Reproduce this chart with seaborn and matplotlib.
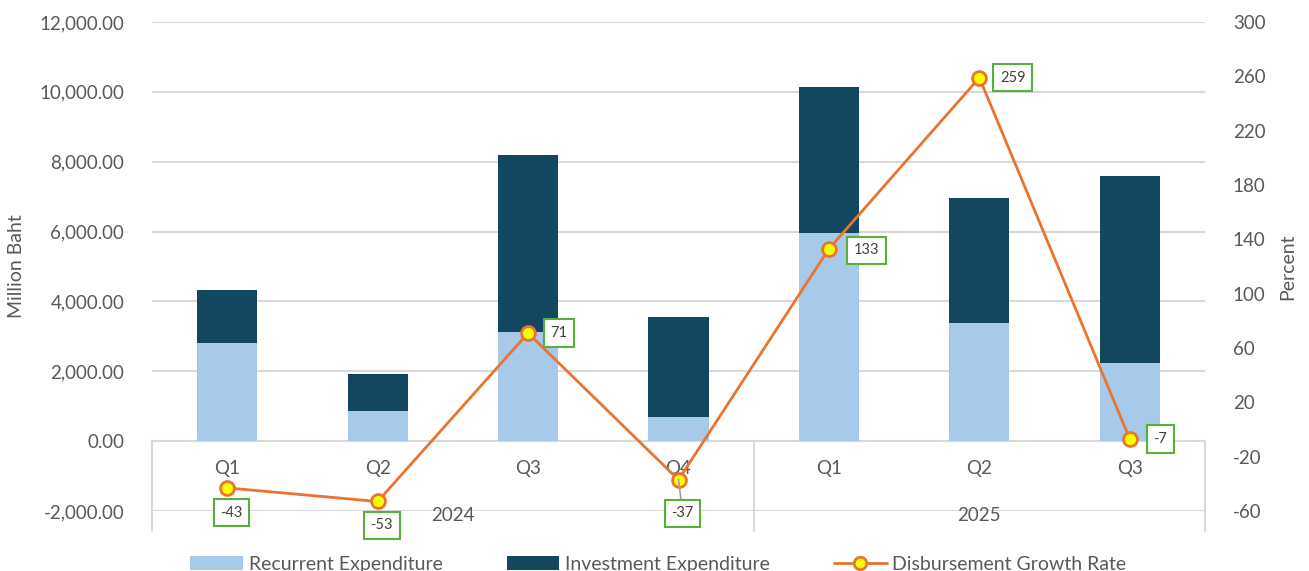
import numpy as np
import pandas as pd
import matplotlib
matplotlib.use("Agg")
import matplotlib.pyplot as plt
import seaborn as sns
from matplotlib.patches import Patch
from matplotlib.lines import Line2D

# ---- data ----
quarters = ["Q1", "Q2", "Q3", "Q4", "Q1", "Q2", "Q3"]
years = ["2024", "2024", "2024", "2024", "2025", "2025", "2025"]
recurrent = [2810, 850, 3120, 700, 5960, 3380, 2240]
investment = [1530, 1070, 5080, 2840, 4180, 3590, 5350]
growth = [-43, -53, 71, -37, 133, 259, -7]
year_labels = ["2024", "2025"]

LIGHT = "#A7C9EA"
DARK = "#12475F"
ORANGE = "#EB7330"
YELLOW = "#FFFF00"
GREEN = "#5AAE3A"
GRID = "#D9D9D9"
TXT = "#595959"

sns.set_theme(style="white")
plt.rcParams["font.family"] = ["Lato", "DejaVu Sans"]

keys = [f"{y} {q}" for y, q in zip(years, quarters)]
total = [r + i for r, i in zip(recurrent, investment)]
df = pd.DataFrame({"key": keys, "recurrent": recurrent, "total": total})

fig = plt.figure(figsize=(13.09, 5.71), dpi=100)
ax = fig.add_axes([152 / 1309, 1 - 511 / 571, (1205 - 152) / 1309, (511 - 22) / 571])

sns.barplot(data=df, x="key", y="total", order=keys, color=DARK, saturation=1,
            width=0.4, ax=ax, zorder=2, linewidth=0, edgecolor="none")
sns.barplot(data=df, x="key", y="recurrent", order=keys, color=LIGHT, saturation=1,
            width=0.4, ax=ax, zorder=3, linewidth=0, edgecolor="none")

ax.set_xlim(-0.5, len(keys) - 0.5)
ax.set_ylim(-2000, 12000)
ax.set_yticks(np.arange(-2000, 12001, 2000))
ax.set_yticklabels([f"{v:,.2f}" for v in np.arange(-2000, 12001, 2000)], color=TXT, fontsize=13.5)
ax.set_xticks([])
ax.set_xlabel("")
ax.set_ylabel("Million Baht", color=TXT, fontsize=14, labelpad=10)
ax.tick_params(axis="y", length=0, pad=20)
for s in ax.spines.values():
    s.set_visible(False)
ax.yaxis.grid(True, color=GRID, linewidth=1.5, zorder=0)
ax.set_axisbelow(True)

# category labels
for i, q in enumerate(quarters):
    ax.text(i, -770, q, ha="center", va="center", color=TXT, fontsize=13.5)
for yl in year_labels:
    idx = [i for i, y in enumerate(years) if y == yl]
    ax.text(np.mean(idx), -2120, yl, ha="center", va="center", color=TXT, fontsize=13.5)
# separators
for xs in [-0.5, 3.5, len(keys) - 0.5]:
    ax.plot([xs, xs], [0, -2560], color=GRID, linewidth=1.5, clip_on=False, zorder=1)

# right axis line
ax2 = ax.twinx()
sns.lineplot(x=np.arange(len(growth)), y=growth, ax=ax2, color=ORANGE, linewidth=2,
             marker="o", markersize=10, markerfacecolor=YELLOW, markeredgecolor=ORANGE,
             markeredgewidth=2, sort=False, zorder=5)
ax2.set_ylim(-60, 300)
ax2.set_yticks(np.arange(-60, 301, 40))
ax2.set_yticklabels([str(v) for v in np.arange(-60, 301, 40)], color=TXT, fontsize=13.5)
ax2.tick_params(axis="y", length=0, pad=20)
ax2.set_ylabel("Percent", color=TXT, fontsize=14, labelpad=10)
for s in ax2.spines.values():
    s.set_visible(False)
ax2.grid(False)

# data labels
offsets = [(3, -18), (3, -17), (22, 0), (3, -24), (27, -1), (24, 0), (22, 0)]
for i, (v, off) in enumerate(zip(growth, offsets)):
    arrow = dict(arrowstyle="-", color="#A0A0A0", lw=1.2, shrinkA=0, shrinkB=0) if i == 3 else None
    ax2.annotate(str(v), xy=(i, v), xytext=off, textcoords="offset points",
                 ha="center", va="center", fontsize=10.5, color="#404040",
                 bbox=dict(boxstyle="square,pad=0.45", fc="white", ec=GREEN, lw=1.5),
                 arrowprops=arrow, zorder=6)

# legend
handles = [Patch(facecolor=LIGHT, edgecolor="none"),
           Patch(facecolor=DARK, edgecolor="none"),
           Line2D([0], [0], color=ORANGE, lw=2, marker="o", markersize=9,
                  markerfacecolor=YELLOW, markeredgecolor=ORANGE, markeredgewidth=2)]
labels = ["Recurrent Expenditure", "Investment Expenditure", "Disbursement Growth Rate"]
fig.legend(handles, labels, loc="center", bbox_to_anchor=(0.503, 0.012), ncol=3,
           frameon=False, fontsize=14, handlelength=2.7, handleheight=0.8,
           columnspacing=3.3, handletextpad=0.3, labelcolor=TXT)

fig.savefig("out.png", dpi=100)
